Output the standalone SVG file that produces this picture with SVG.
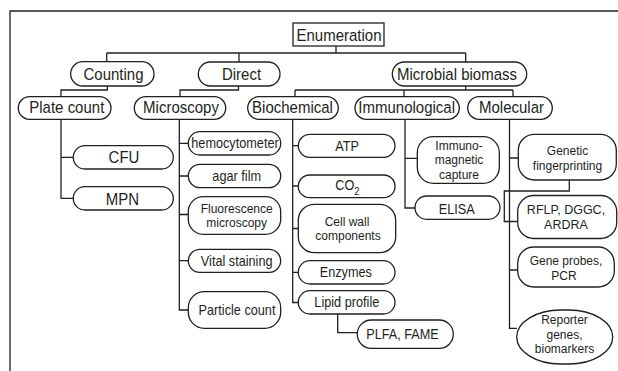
<svg xmlns="http://www.w3.org/2000/svg" width="618" height="371" viewBox="0 0 618 371">
<style>
.p{fill:#fff;stroke:#231f20;stroke-width:1.3}
.c{fill:none;stroke:#231f20;stroke-width:1.3}
text{font-family:"Liberation Sans",Arial,sans-serif;fill:#231f20;text-anchor:middle}
.a{font-size:15px}
.d{font-size:12.7px}
.m{font-size:12px}
</style>
<rect width="618" height="371" fill="#fff"/>
<path class="c" d="M10 371V11H618"/>
<g id="connectors">
<path class="c" d="M336 46V53M106.7 53H465.7M106.7 53V61.7M239 53V62M465.7 53V62"/>
<path class="c" d="M107.3 86V90H61V96.7"/>
<path class="c" d="M238.5 86V90H180V96.7"/>
<path class="c" d="M465.7 86V90M295 90H513M295 90V96.7M404 90V96.7M513 90V96.7"/>
<path class="c" d="M61 119.3V198.3H73.3M61 157.3H73.3"/>
<path class="c" d="M179.3 119.3V310H188.3M179.3 143.3H188.3M179.3 176H188.3M179.3 214.5H188.3M179.3 260.7H188.3"/>
<path class="c" d="M292.7 119.3V302.5H298.3M292.7 145.7H298.3M292.7 186H298.3M292.7 228.5H298.3M292.7 272.3H298.3"/>
<path class="c" d="M337.7 314V332.7H357.3"/>
<path class="c" d="M405 119.3V208H415M405 158.3H417.3"/>
<path class="c" d="M509.5 119.3V328.3H517M509.5 158H518.3M509.5 270H517.7"/>
<path class="c" d="M569.3 180V191H504.3V221.5H517.7"/>
</g>
<g id="enumeration"><rect class="p" x="293" y="23" width="91" height="23"/><text class="a" transform="translate(339 41.3) scale(1 1.15)">Enumeration</text></g>
<g id="counting"><rect class="p" x="70.7" y="61.7" width="83.3" height="24.3" rx="12.1"/><text class="a" transform="translate(113.5 80) scale(1 1.15)">Counting</text></g>
<g id="direct"><rect class="p" x="198.3" y="62" width="81.7" height="24" rx="12"/><text class="a" transform="translate(241.5 80) scale(1 1.15)">Direct</text></g>
<g id="microbial-biomass"><rect class="p" x="392.3" y="62" width="134.4" height="24" rx="12"/><text class="a" transform="translate(457 80) scale(1 1.15)">Microbial biomass</text></g>
<g id="plate-count"><rect class="p" x="18.3" y="96.7" width="92.7" height="22.6" rx="11.3"/><text class="a" transform="translate(66.8 113.3) scale(1 1.15)">Plate count</text></g>
<g id="microscopy"><rect class="p" x="134.3" y="96.7" width="91.4" height="22.6" rx="11.3"/><text class="a" transform="translate(181 113.3) scale(1 1.15)">Microscopy</text></g>
<g id="biochemical"><rect class="p" x="247.7" y="96.7" width="90.6" height="22.6" rx="11.3"/><text class="a" transform="translate(292.5 113.3) scale(1 1.15)">Biochemical</text></g>
<g id="immunological"><rect class="p" x="355" y="96.7" width="104.3" height="22.6" rx="11.3"/><text class="a" transform="translate(406.7 113.3) scale(1 1.15)">Immunological</text></g>
<g id="molecular"><rect class="p" x="467.7" y="96.7" width="84.6" height="22.6" rx="11.3"/><text class="a" transform="translate(511.5 113.3) scale(1 1.15)">Molecular</text></g>
<g id="cfu"><rect class="p" x="73.3" y="145.7" width="100" height="23.3" rx="11.6"/><text class="a" transform="translate(124 163.3) scale(1 1.15)">CFU</text></g>
<g id="mpn"><rect class="p" x="73.3" y="186.7" width="100" height="23.3" rx="11.6"/><text class="a" transform="translate(122.5 204.5) scale(1 1.15)">MPN</text></g>
<g id="hemocytometer"><rect class="p" x="188.3" y="131.7" width="92.4" height="23.3" rx="11.6"/><text class="d" transform="translate(235 148) scale(1 1.15)">hemocytometer</text></g>
<g id="agar-film"><rect class="p" x="188.3" y="164.3" width="92.4" height="23.4" rx="11.7"/><text class="d" transform="translate(236.7 181) scale(1 1.15)">agar film</text></g>
<g id="fluorescence"><rect class="p" x="188.3" y="196.7" width="92.4" height="37.6" rx="15"/><text class="m" x="236.7" y="212.5">Fluorescence<tspan x="236.7" dy="14.5">microscopy</tspan></text></g>
<g id="vital-staining"><rect class="p" x="188.3" y="249.3" width="92.4" height="23" rx="11.5"/><text class="d" transform="translate(236.7 265.7) scale(1 1.15)">Vital staining</text></g>
<g id="particle-count"><rect class="p" x="188.3" y="291.7" width="92.4" height="36.6" rx="16"/><text class="d" transform="translate(237 315) scale(1 1.15)">Particle count</text></g>
<g id="atp"><rect class="p" x="298.3" y="134.3" width="96.7" height="23" rx="11.5"/><text class="d" transform="translate(347 150.7) scale(1 1.15)">ATP</text></g>
<g id="co2"><rect class="p" x="298.3" y="175" width="96.7" height="22.7" rx="11.3"/><text class="d" transform="translate(347.5 190.3) scale(1 1.15)">CO<tspan dy="4.5" style="font-size:9.5px">2</tspan></text></g>
<g id="cell-wall"><rect class="p" x="298.3" y="204.3" width="97.4" height="48.4" rx="16"/><text class="m" x="347" y="225.5">Cell wall<tspan x="348" dy="14.5">components</tspan></text></g>
<g id="enzymes"><rect class="p" x="298.3" y="260.7" width="96.7" height="23.3" rx="11.6"/><text class="d" transform="translate(345.8 277.3) scale(1 1.15)">Enzymes</text></g>
<g id="lipid-profile"><rect class="p" x="298.3" y="290.7" width="96.7" height="23.3" rx="11.6"/><text class="d" transform="translate(346.8 306.7) scale(1 1.15)">Lipid profile</text></g>
<g id="plfa-fame"><rect class="p" x="357.3" y="320" width="96" height="28.3" rx="14"/><text class="d" transform="translate(402.5 339.3) scale(1 1.15)">PLFA, FAME</text></g>
<g id="immunomagnetic"><rect class="p" x="417.3" y="136.7" width="82" height="46.6" rx="16"/><text class="m" x="459" y="149.8">Immuno-<tspan x="459" dy="14.5">magnetic</tspan><tspan x="459" dy="14.5">capture</tspan></text></g>
<g id="elisa"><rect class="p" x="415" y="196" width="85" height="23.3" rx="11.6"/><text class="d" transform="translate(456.7 213.5) scale(1 1.15)">ELISA</text></g>
<g id="genetic-fingerprinting"><rect class="p" x="518.3" y="134.3" width="98" height="45.7" rx="16"/><text class="m" x="567.5" y="155">Genetic<tspan x="567.5" dy="14.5">fingerprinting</tspan></text></g>
<g id="rflp"><rect class="p" x="517.7" y="195.5" width="99" height="43" rx="16"/><text class="m" x="566" y="214" style="font-size:12.5px">RFLP, DGGC,<tspan x="566" dy="14.5">ARDRA</tspan></text></g>
<g id="gene-probes"><rect class="p" x="517.7" y="247" width="96.6" height="40" rx="16"/><text class="m" x="566" y="265">Gene probes,<tspan x="564" dy="14.5">PCR</tspan></text></g>
<g id="reporter"><rect class="p" x="516.7" y="310" width="96" height="54" rx="44" ry="27"/><text class="m" x="564.5" y="324">Reporter<tspan x="564.5" dy="14.5">genes,</tspan><tspan x="564.5" dy="14.5">biomarkers</tspan></text></g>
</svg>
